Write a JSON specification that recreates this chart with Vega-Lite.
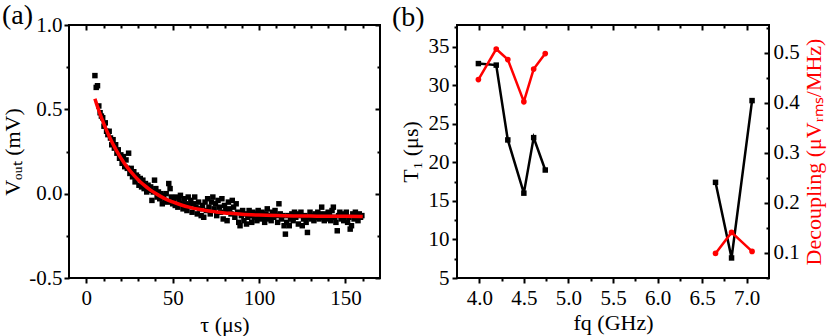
{
  "$schema": "https://vega.github.io/schema/vega-lite/v6.json",
  "padding": {"left": 0, "top": 1, "right": 1, "bottom": 0},
  "bounds": "flush",
  "spacing": 77,
  "config": {
    "font": "Liberation Serif",
    "view": {"stroke": "black", "strokeWidth": 2},
    "axis": {
      "labelFont": "Liberation Serif", "labelFontSize": 21, "labelColor": "black",
      "titleFont": "Liberation Serif", "titleFontSize": 22, "titleFontWeight": "normal", "titleColor": "black",
      "domain": false, "tickColor": "black", "tickWidth": 2, "grid": false, "labelPadding": 2, "labelFlush": false, "labelOverlap": false
    },
    "title": {"font": "Liberation Serif", "fontSize": 28, "fontWeight": "normal", "color": "black", "anchor": "start", "frame": "group"}
  },
  "hconcat": [
    {
      "width": 311, "height": 253,
      "title": {"text": "(a)", "dx": -67, "offset": -16},
      "layer": [
        {
          "data": {"values": [
            {"t":5.0,"v":0.70},{"t":5.75,"v":0.63},{"t":6.5,"v":0.64},{"t":7.25,"v":0.52},{"t":8.0,"v":0.48},{"t":8.75,"v":0.46},{"t":9.5,"v":0.45},{"t":10.25,"v":0.40},{"t":11.0,"v":0.42},{"t":11.75,"v":0.37},
            {"t":12.5,"v":0.35},{"t":13.25,"v":0.37},{"t":14.0,"v":0.33},{"t":14.75,"v":0.29},{"t":15.5,"v":0.32},{"t":16.25,"v":0.27},{"t":17.0,"v":0.29},{"t":17.75,"v":0.24},{"t":18.5,"v":0.26},{"t":19.25,"v":0.21},
            {"t":20.0,"v":0.23},{"t":20.75,"v":0.18},{"t":21.5,"v":0.22},{"t":22.25,"v":0.16},{"t":23.0,"v":0.20},{"t":23.75,"v":0.15},{"t":24.5,"v":0.24},{"t":25.25,"v":0.12},{"t":26.0,"v":0.15},{"t":26.75,"v":0.10},
            {"t":27.5,"v":0.13},{"t":28.25,"v":0.07},{"t":29.0,"v":0.11},{"t":29.75,"v":0.10},{"t":30.5,"v":0.05},{"t":31.25,"v":0.09},{"t":32.0,"v":0.04},{"t":32.75,"v":0.08},{"t":33.5,"v":0.03},{"t":34.25,"v":0.06},
            {"t":35.0,"v":0.01},{"t":35.75,"v":0.05},{"t":36.5,"v":0.02},{"t":37.25,"v":0.04},{"t":38.0,"v":-0.04},{"t":38.75,"v":0.01},{"t":39.5,"v":0.08},{"t":40.25,"v":0.03},{"t":41.0,"v":-0.02},{"t":41.75,"v":0.01},
            {"t":42.5,"v":-0.03},{"t":43.25,"v":0.00},{"t":44.0,"v":-0.06},{"t":44.75,"v":-0.01},{"t":45.5,"v":-0.04},{"t":46.25,"v":0.00},{"t":47.0,"v":-0.05},{"t":47.75,"v":0.06},{"t":48.5,"v":0.03},{"t":49.25,"v":-0.02},
            {"t":50.0,"v":-0.06},{"t":50.75,"v":-0.03},{"t":51.5,"v":-0.07},{"t":52.25,"v":-0.02},{"t":53.0,"v":-0.08},{"t":53.75,"v":-0.04},{"t":54.5,"v":-0.01},{"t":55.25,"v":-0.06},{"t":56.0,"v":-0.09},{"t":56.75,"v":-0.03},
            {"t":57.5,"v":-0.06},{"t":58.25,"v":-0.10},{"t":59.0,"v":-0.02},{"t":59.75,"v":-0.07},{"t":60.5,"v":-0.04},{"t":61.25,"v":-0.11},{"t":62.0,"v":-0.06},{"t":62.75,"v":-0.02},{"t":63.5,"v":-0.08},{"t":64.25,"v":-0.12},
            {"t":65.0,"v":-0.05},{"t":65.75,"v":-0.09},{"t":66.5,"v":-0.13},{"t":67.25,"v":-0.07},{"t":68.0,"v":-0.14},{"t":68.75,"v":-0.05},{"t":69.5,"v":-0.10},{"t":70.25,"v":-0.03},{"t":71.0,"v":-0.08},{"t":71.75,"v":-0.12},
            {"t":72.5,"v":-0.05},{"t":73.25,"v":-0.02},{"t":74.0,"v":-0.09},{"t":74.75,"v":-0.06},{"t":75.5,"v":-0.13},{"t":76.25,"v":-0.04},{"t":77.0,"v":-0.08},{"t":77.75,"v":-0.11},{"t":78.5,"v":-0.03},{"t":79.25,"v":-0.15},
            {"t":80.0,"v":-0.07},{"t":80.75,"v":-0.10},{"t":81.5,"v":-0.16},{"t":82.25,"v":-0.05},{"t":83.0,"v":-0.09},{"t":83.75,"v":-0.12},{"t":84.5,"v":-0.04},{"t":85.25,"v":-0.08},{"t":86.0,"v":-0.14},{"t":86.75,"v":-0.06},
            {"t":87.5,"v":-0.11},{"t":88.25,"v":-0.17},{"t":89.0,"v":-0.19},{"t":89.75,"v":-0.13},{"t":90.5,"v":-0.10},{"t":91.25,"v":-0.16},{"t":92.0,"v":-0.12},{"t":92.75,"v":-0.18},{"t":93.5,"v":-0.14},{"t":94.25,"v":-0.10},
            {"t":95.0,"v":-0.13},{"t":95.75,"v":-0.17},{"t":96.5,"v":-0.11},{"t":97.25,"v":-0.14},{"t":98.0,"v":-0.12},{"t":98.75,"v":-0.16},{"t":99.5,"v":-0.10},{"t":100.25,"v":-0.13},{"t":101.0,"v":-0.15},{"t":101.75,"v":-0.11},
            {"t":102.5,"v":-0.14},{"t":103.25,"v":-0.17},{"t":104.0,"v":-0.12},{"t":104.75,"v":-0.09},{"t":105.5,"v":-0.15},{"t":106.25,"v":-0.13},{"t":107.0,"v":-0.16},{"t":107.75,"v":-0.11},{"t":108.5,"v":-0.14},{"t":109.25,"v":-0.10},
            {"t":110.0,"v":-0.13},{"t":110.75,"v":-0.17},{"t":111.5,"v":-0.06},{"t":112.25,"v":-0.12},{"t":113.0,"v":-0.15},{"t":113.75,"v":-0.13},{"t":114.5,"v":-0.19},{"t":115.25,"v":-0.24},{"t":116.0,"v":-0.17},{"t":116.75,"v":-0.13},
            {"t":117.5,"v":-0.19},{"t":118.25,"v":-0.15},{"t":119.0,"v":-0.12},{"t":119.75,"v":-0.16},{"t":120.5,"v":-0.11},{"t":121.25,"v":-0.14},{"t":122.0,"v":-0.12},{"t":122.75,"v":-0.18},{"t":123.5,"v":-0.13},{"t":124.25,"v":-0.11},
            {"t":125.0,"v":-0.19},{"t":125.75,"v":-0.15},{"t":126.5,"v":-0.13},{"t":127.25,"v":-0.17},{"t":128.0,"v":-0.23},{"t":128.75,"v":-0.14},{"t":129.5,"v":-0.11},{"t":130.25,"v":-0.15},{"t":131.0,"v":-0.13},{"t":131.75,"v":-0.16},
            {"t":132.5,"v":-0.12},{"t":133.25,"v":-0.14},{"t":134.0,"v":-0.11},{"t":134.75,"v":-0.15},{"t":135.5,"v":-0.12},{"t":136.25,"v":-0.08},{"t":137.0,"v":-0.14},{"t":137.75,"v":-0.16},{"t":138.5,"v":-0.12},{"t":139.25,"v":-0.15},
            {"t":140.0,"v":-0.11},{"t":140.75,"v":-0.13},{"t":141.5,"v":-0.16},{"t":142.25,"v":-0.10},{"t":143.0,"v":-0.08},{"t":143.75,"v":-0.14},{"t":144.5,"v":-0.17},{"t":145.25,"v":-0.22},{"t":146.0,"v":-0.13},{"t":146.75,"v":-0.11},
            {"t":147.5,"v":-0.15},{"t":148.25,"v":-0.12},{"t":149.0,"v":-0.16},{"t":149.75,"v":-0.13},{"t":150.5,"v":-0.11},{"t":151.25,"v":-0.17},{"t":152.0,"v":-0.14},{"t":152.75,"v":-0.21},{"t":153.5,"v":-0.19},{"t":154.25,"v":-0.12},
            {"t":155.0,"v":-0.15},{"t":155.75,"v":-0.11},{"t":156.5,"v":-0.13},{"t":157.25,"v":-0.16},{"t":158.0,"v":-0.12},{"t":158.75,"v":-0.14},{"t":159.5,"v":-0.13}
          ]},
          "mark": {"type": "square", "size": 30, "color": "black", "opacity": 1, "filled": true},
          "encoding": {
            "x": {"field": "t", "type": "quantitative", "scale": {"domain": [-10, 170], "nice": false, "zero": false},
              "axis": {"orient": "bottom", "values": [0,10,20,30,40,50,60,70,80,90,100,110,120,130,140,150,160],
                "labelExpr": "datum.value % 50 === 0 ? datum.value : ''",
                "tickSize": {"condition": {"test": "datum.value % 50 === 0", "value": 5}, "value": 3},
                "title": "τ (μs)", "labelPadding": 4, "titlePadding": 6}},
            "y": {"field": "v", "type": "quantitative", "scale": {"domain": [-0.5, 1.0], "nice": false, "zero": false},
              "axis": {"orient": "left", "values": [-0.5,-0.25,0,0.25,0.5,0.75,1.0],
                "labelExpr": "datum.value % 0.5 === 0 ? replace(format(datum.value, '.1f'), '\u2212', '-') : ''",
                "tickSize": {"condition": {"test": "datum.value % 0.5 === 0", "value": 5}, "value": 3},
                "title": "Vₒᵤₜ (mV)", "labelPadding": 2, "titlePadding": 4}}
          }
        },
        {
          "data": {"values": [
            {"t":5,"v":0.563},{"t":6,"v":0.531},{"t":7,"v":0.501},{"t":8,"v":0.472},{"t":9,"v":0.445},{"t":10,"v":0.418},{"t":11,"v":0.393},{"t":12,"v":0.369},{"t":13,"v":0.346},{"t":14,"v":0.324},
            {"t":15,"v":0.303},{"t":16,"v":0.283},{"t":17,"v":0.264},{"t":18,"v":0.246},{"t":19,"v":0.229},{"t":20,"v":0.212},{"t":22,"v":0.181},{"t":24,"v":0.153},{"t":26,"v":0.127},{"t":28,"v":0.104},
            {"t":30,"v":0.083},{"t":32,"v":0.063},{"t":34,"v":0.046},{"t":36,"v":0.030},{"t":38,"v":0.015},{"t":40,"v":0.002},{"t":43,"v":-0.016},{"t":46,"v":-0.032},{"t":50,"v":-0.049},{"t":55,"v":-0.067},
            {"t":60,"v":-0.081},{"t":65,"v":-0.092},{"t":70,"v":-0.101},{"t":75,"v":-0.108},{"t":80,"v":-0.114},{"t":85,"v":-0.118},{"t":90,"v":-0.122},{"t":100,"v":-0.127},{"t":110,"v":-0.130},{"t":120,"v":-0.132},
            {"t":130,"v":-0.133},{"t":140,"v":-0.134},{"t":150,"v":-0.134},{"t":160,"v":-0.135}
          ]},
          "mark": {"type": "line", "color": "#ff0000", "strokeWidth": 3.5, "interpolate": "monotone"},
          "encoding": {
            "x": {"field": "t", "type": "quantitative",
              "axis": {"orient": "top", "values": [0,10,20,30,40,50,60,70,80,90,100,110,120,130,140,150,160], "labels": false, "title": null,
                "tickSize": {"condition": {"test": "datum.value % 50 === 0", "value": -5}, "value": -3}}},
            "y": {"field": "v", "type": "quantitative",
              "axis": {"orient": "right", "values": [-0.5,-0.25,0,0.25,0.5,0.75,1.0], "labels": false, "title": null,
                "tickSize": {"condition": {"test": "datum.value % 0.5 === 0", "value": -5}, "value": -3}}}
          }
        }
      ]
    },
    {
      "width": 312, "height": 253,
      "title": {"text": "(b)", "dx": -65, "offset": -16},
      "resolve": {"scale": {"y": "independent"}},
      "layer": [
        {
          "data": {"values": [
            {"f":3.99,"T1":32.8,"seg":"low"},{"f":4.19,"T1":32.6,"seg":"low"},{"f":4.32,"T1":22.9,"seg":"low"},{"f":4.50,"T1":16.0,"seg":"low"},{"f":4.61,"T1":23.2,"seg":"low"},{"f":4.74,"T1":19.0,"seg":"low"},
            {"f":6.65,"T1":17.4,"seg":"high"},{"f":6.83,"T1":7.6,"seg":"high"},{"f":7.06,"T1":28.0,"seg":"high"}
          ]},
          "mark": {"type": "line", "color": "black", "strokeWidth": 2.5, "point": {"shape": "square", "size": 30, "filled": true, "color": "black", "opacity": 1}},
          "encoding": {
            "detail": {"field": "seg"},
            "x": {"field": "f", "type": "quantitative", "scale": {"domain": [3.75, 7.25], "nice": false, "zero": false},
              "axis": {"orient": "bottom", "values": [4,4.25,4.5,4.75,5,5.25,5.5,5.75,6,6.25,6.5,6.75,7],
                "labelExpr": "datum.value % 0.5 === 0 ? format(datum.value, '.1f') : ''",
                "tickSize": {"condition": {"test": "datum.value % 0.5 === 0", "value": 5}, "value": 3},
                "title": "fq (GHz)", "labelPadding": 4, "titlePadding": 4}},
            "y": {"field": "T1", "type": "quantitative", "scale": {"domain": [5, 37.8], "nice": false, "zero": false},
              "axis": {"orient": "left", "values": [5,7.5,10,12.5,15,17.5,20,22.5,25,27.5,30,32.5,35,37.5],
                "labelExpr": "datum.value % 5 === 0 ? datum.value : ''",
                "tickSize": {"condition": {"test": "datum.value % 5 === 0", "value": 5}, "value": 3},
                "title": "T₁ (μs)", "labelPadding": 3, "titlePadding": 6}}
          }
        },
        {
          "data": {"values": [
            {"f":3.99,"D":0.446,"seg":"low"},{"f":4.19,"D":0.507,"seg":"low"},{"f":4.32,"D":0.486,"seg":"low"},{"f":4.50,"D":0.402,"seg":"low"},{"f":4.61,"D":0.467,"seg":"low"},{"f":4.74,"D":0.498,"seg":"low"},
            {"f":6.65,"D":0.099,"seg":"high"},{"f":6.83,"D":0.141,"seg":"high"},{"f":7.06,"D":0.103,"seg":"high"}
          ]},
          "mark": {"type": "line", "color": "#ff0000", "strokeWidth": 2.5, "point": {"shape": "circle", "size": 32, "filled": true, "color": "#ff0000", "opacity": 1}},
          "encoding": {
            "detail": {"field": "seg"},
            "x": {"field": "f", "type": "quantitative",
              "axis": {"orient": "top", "values": [4,4.25,4.5,4.75,5,5.25,5.5,5.75,6,6.25,6.5,6.75,7], "labels": false, "title": null,
                "tickSize": {"condition": {"test": "datum.value % 0.5 === 0", "value": -5}, "value": -3}}},
            "y": {"field": "D", "type": "quantitative", "scale": {"domain": [0.05, 0.555], "nice": false, "zero": false},
              "axis": {"orient": "right", "values": [0.05,0.1,0.15,0.2,0.25,0.3,0.35,0.4,0.45,0.5,0.55],
                "labelExpr": "abs(datum.value*10 - round(datum.value*10)) < 0.000001 ? format(datum.value, '.1f') : ''",
                "tickSize": {"condition": {"test": "abs(datum.value*10 - round(datum.value*10)) < 0.000001", "value": -5}, "value": -3},
                "title": "Decoupling (μVᵣₘₛ/MHz)", "titleColor": "#ff0000", "titleAngle": 270, "labelPadding": 9, "titlePadding": 26}}
          }
        }
      ]
    }
  ]
}
